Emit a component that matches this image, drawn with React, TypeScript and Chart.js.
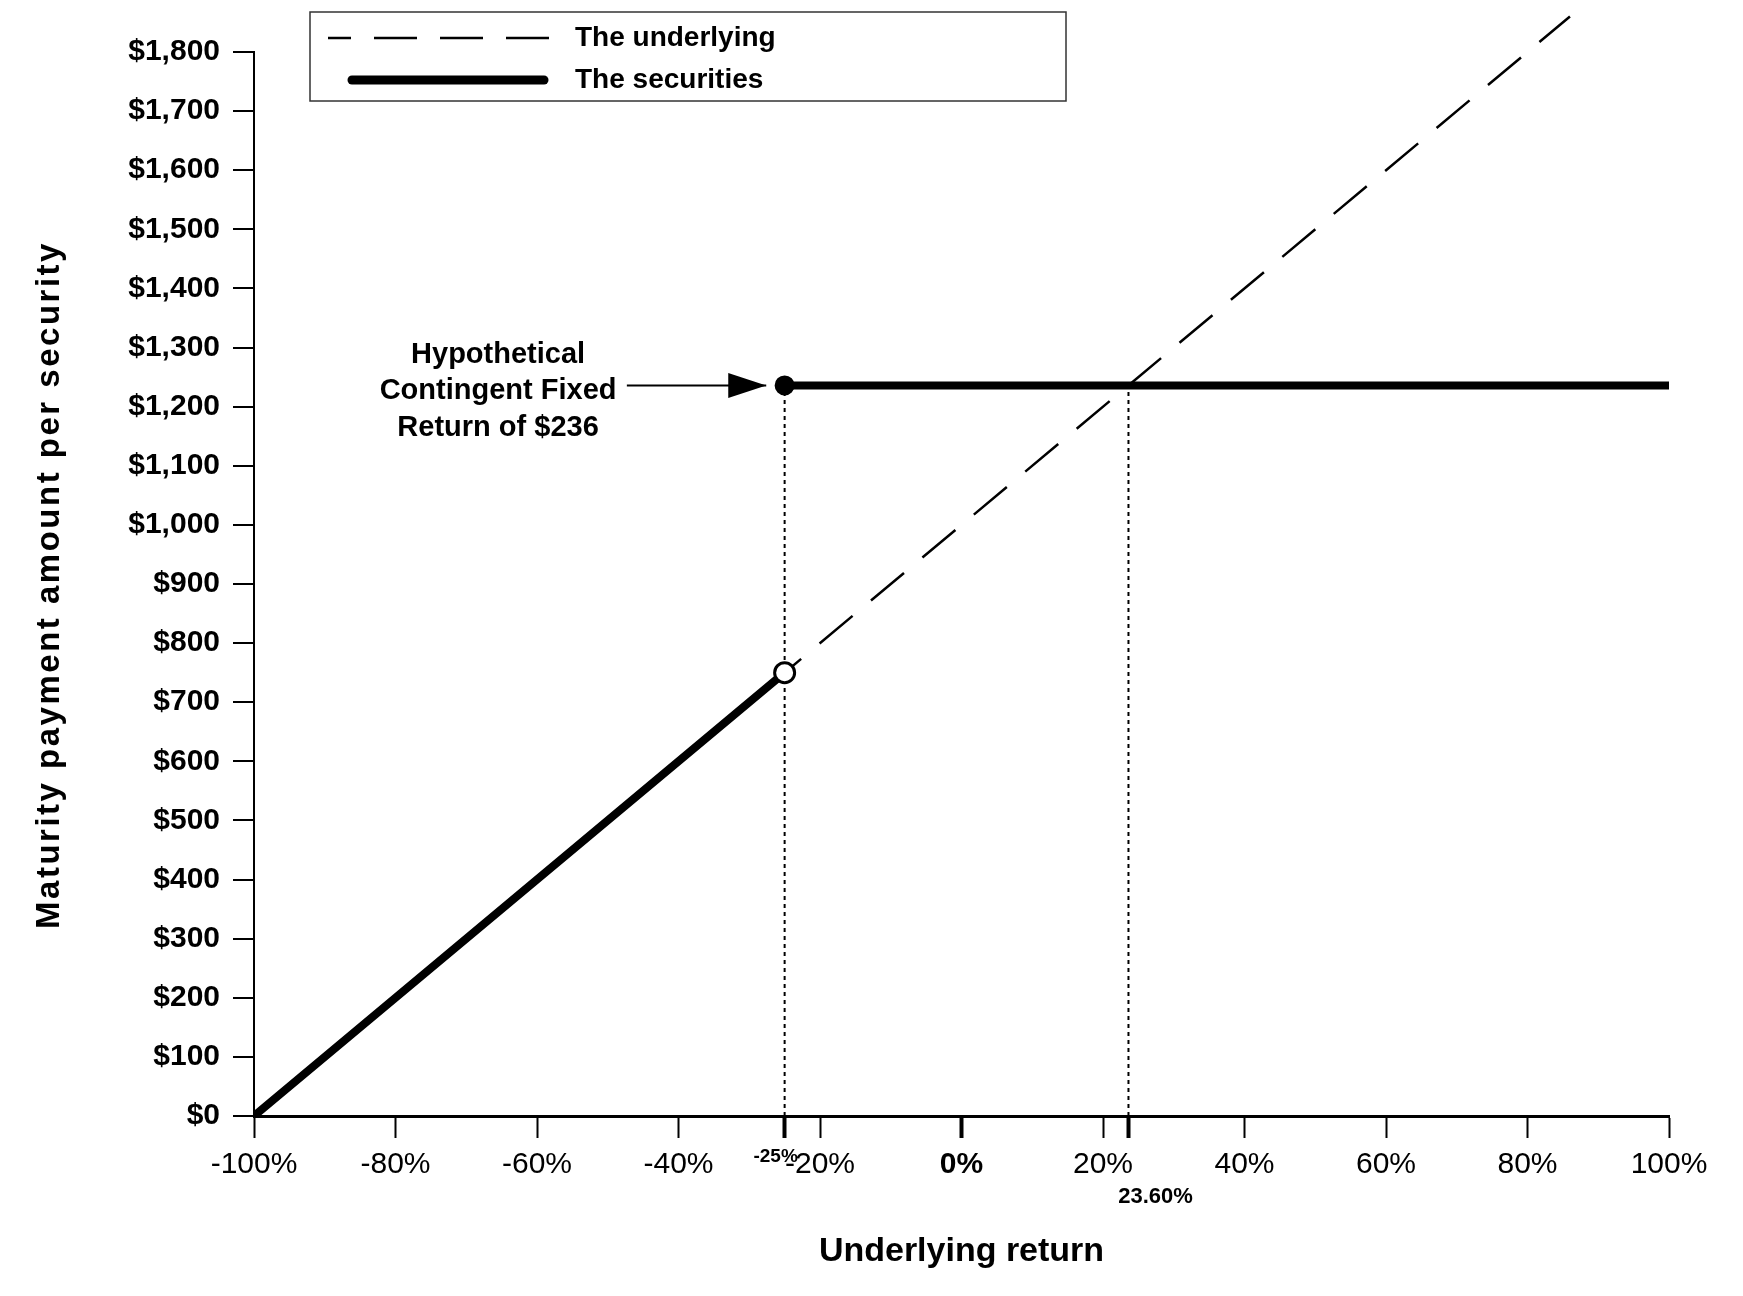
import { useEffect, useRef } from "react";
import { Chart, registerables } from "chart.js";
Chart.register(...registerables);

const FONT = "'Liberation Sans', Arial, Helvetica, sans-serif";

// x axis: underlying return in %, y axis: payment in $
const X_TICKS = [-100, -80, -60, -40, -25, -20, 0, 20, 23.6, 40, 60, 80, 100];
const SPECIAL_TICKS = [-25, 23.6];
const THICK_TICKS = [-25, 0, 23.6];

const UNDERLYING_RETURN = [-100, -25, 86];
const UNDERLYING_PAYMENT = [0, 750, 1860];

const SECURITIES_RETURN = [-100, -25, -25, -25, 100];
const SECURITIES_PAYMENT = [0, 750, null, 1236, 1236];

const GUIDE_RETURN = [-25, -25, 0, 23.6, 23.6];
const GUIDE_PAYMENT = [0, 1236, null, 0, 1236];

const ARROW_RETURN = [-47.3, -27.6];
const FIXED_PAYMENT = 1236;

const NOTE_RETURN = -65.5;
const NOTE_LINES = ["Hypothetical", "Contingent Fixed", "Return of $236"];

const SERIES_NAMES = ["The underlying", "The securities"];

const pts = (xs: number[], ys: (number | null)[]) =>
  xs.map((x, i) => ({ x, y: ys[i] }));

const notesPlugin = {
  id: "notes",
  afterDatasetsDraw(chart: any) {
    const { ctx, scales } = chart;
    const x = scales.x;
    const y = scales.y;
    ctx.save();
    ctx.fillStyle = "#000";

    // arrow head
    const tipX = x.getPixelForValue(ARROW_RETURN[1]);
    const tipY = y.getPixelForValue(FIXED_PAYMENT);
    ctx.beginPath();
    ctx.moveTo(tipX, tipY);
    ctx.lineTo(tipX - 38, tipY - 12.5);
    ctx.lineTo(tipX - 38, tipY + 12.5);
    ctx.closePath();
    ctx.fill();

    // note
    ctx.font = `bold 29px ${FONT}`;
    ctx.textAlign = "center";
    ctx.textBaseline = "middle";
    const nx = x.getPixelForValue(NOTE_RETURN);
    NOTE_LINES.forEach((t, i) => ctx.fillText(t, nx, tipY + 6 + (i - 1) * 36.5));
    ctx.restore();
  },
  afterDraw(chart: any) {
    const { ctx, scales, chartArea } = chart;
    const x = scales.x;
    ctx.save();
    ctx.fillStyle = "#000";
    ctx.textAlign = "center";
    ctx.textBaseline = "middle";

    // small labels for the special ticks
    ctx.font = `bold 19px ${FONT}`;
    ctx.fillText("-25%", x.getPixelForValue(SPECIAL_TICKS[0]) - 9, 1157);
    ctx.font = `bold 22px ${FONT}`;
    ctx.fillText("23.60%", x.getPixelForValue(SPECIAL_TICKS[1]) + 27, 1197);

    // y title, letter spaced
    ctx.save();
    ctx.translate(50, (chartArea.top + chartArea.bottom) / 2 + 1);
    ctx.rotate(-Math.PI / 2);
    ctx.font = `bold 33px ${FONT}`;
    (ctx as any).letterSpacing = "2.5px";
    ctx.fillText("Maturity payment amount per security", 0, 0);
    ctx.restore();

    // legend
    ctx.fillStyle = "#fff";
    ctx.fillRect(310, 12, 756, 89);
    ctx.strokeStyle = "#333";
    ctx.lineWidth = 1.5;
    ctx.strokeRect(310, 12, 756, 89);

    ctx.strokeStyle = "#000";
    ctx.lineWidth = 2.5;
    ctx.setLineDash([43, 23]);
    ctx.lineDashOffset = 20;
    ctx.beginPath();
    ctx.moveTo(328, 38);
    ctx.lineTo(551, 38);
    ctx.stroke();

    ctx.setLineDash([]);
    ctx.lineWidth = 9;
    ctx.lineCap = "round";
    ctx.beginPath();
    ctx.moveTo(352, 80);
    ctx.lineTo(544, 80);
    ctx.stroke();

    ctx.fillStyle = "#000";
    ctx.font = `bold 28px ${FONT}`;
    ctx.textAlign = "left";
    ctx.fillText(SERIES_NAMES[0], 575, 38);
    ctx.fillText(SERIES_NAMES[1], 575, 80);
    ctx.restore();
  },
};

export default function App() {
  const canvasRef = useRef<HTMLCanvasElement>(null);

  useEffect(() => {
    if (!canvasRef.current) return;
    const chart = new Chart(canvasRef.current, {
      type: "line",
      data: {
        datasets: [
          {
            label: SERIES_NAMES[1],
            data: pts(SECURITIES_RETURN, SECURITIES_PAYMENT),
            borderColor: "#000",
            borderWidth: 8,
            spanGaps: false,
            pointRadius: [0, 10, 0, 9, 0],
            pointBackgroundColor: ["#000", "#fff", "#000", "#000", "#000"],
            pointBorderColor: "#000",
            pointBorderWidth: [0, 3, 0, 2, 0],
            order: 0,
          },
          {
            label: "arrow",
            data: pts(ARROW_RETURN, [FIXED_PAYMENT, FIXED_PAYMENT]),
            borderColor: "#000",
            borderWidth: 2,
            pointRadius: 0,
            order: 1,
          },
          {
            label: SERIES_NAMES[0],
            data: pts(UNDERLYING_RETURN, UNDERLYING_PAYMENT),
            borderColor: "#000",
            borderWidth: 2.5,
            borderDash: [43, 24],
            pointRadius: 0,
            clip: false as any,
            order: 2,
          },
          {
            label: "guides",
            data: pts(GUIDE_RETURN, GUIDE_PAYMENT),
            borderColor: "#000",
            borderWidth: 2,
            borderDash: [4, 4],
            spanGaps: false,
            pointRadius: 0,
            order: 3,
          },
        ],
      },
      options: {
        animation: false,
        responsive: true,
        maintainAspectRatio: false,
        events: [],
        layout: { padding: { left: 0, top: 52, right: 74, bottom: 0 } },
        plugins: { legend: { display: false }, tooltip: { enabled: false } },
        scales: {
          x: {
            type: "linear",
            min: -100,
            max: 100,
            afterBuildTicks: (s: any) => {
              s.ticks = X_TICKS.map(v => ({ value: v }));
            },
            afterFit: (s: any) => {
              s.height = 180;
            },
            ticks: {
              autoSkip: false,
              maxRotation: 0,
              padding: 9,
              color: "#000",
              font: (c: any) => ({
                family: FONT,
                size: 30,
                weight: c.tick && c.tick.value === 0 ? "bold" : "normal",
              }),
              callback: (v: any) => (SPECIAL_TICKS.includes(v) ? "" : v + "%"),
            },
            grid: {
              drawOnChartArea: false,
              drawTicks: true,
              tickLength: 22,
              color: "#000",
              tickWidth: (c: any) => (c.tick && THICK_TICKS.includes(c.tick.value) ? 4 : 2),
            },
            border: { color: "#000", width: 3 },
            title: {
              display: true,
              text: "Underlying return",
              color: "#000",
              font: { family: FONT, size: 34, weight: "bold" },
              padding: { top: 0, bottom: 24 },
            },
          },
          y: {
            min: 0,
            max: 1800,
            afterFit: (s: any) => {
              s.width = 254;
            },
            ticks: {
              stepSize: 100,
              padding: 13,
              color: "#000",
              font: { family: FONT, size: 30, weight: "bold" },
              callback: (v: any) => "$" + Number(v).toLocaleString("en-US"),
            },
            grid: { drawOnChartArea: false, tickLength: 21, color: "#000", lineWidth: 2 },
            border: { color: "#000", width: 2 },
          },
        },
      },
      plugins: [notesPlugin],
    });
    return () => chart.destroy();
  }, []);

  return (
    <div style={{ position: "fixed", left: 0, top: 0, width: 1743, height: 1296, background: "#fff" }}>
      <canvas ref={canvasRef} />
    </div>
  );
}
